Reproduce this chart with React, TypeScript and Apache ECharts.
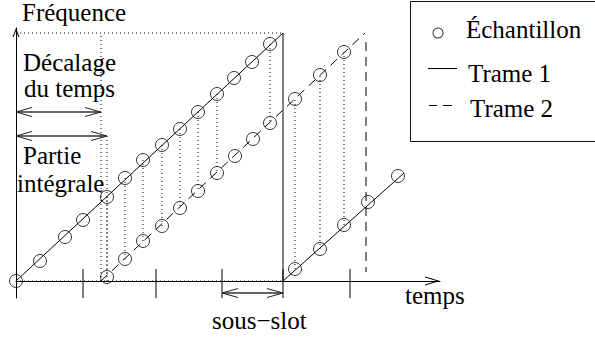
import React, { useEffect, useRef } from "react";
import * as echarts from "echarts";

const FONT = "Liberation Serif";

// ---- data (x: temps, y: fréquence, drawing units) ----
const trame1Path: number[][] = [[0, 0], [267, 248], [267, 0], [388, 108]];
const trame2Path: number[][] = [[85, 0], [349, 248]];
const trame2Drop: number[][] = [[350, 239], [350, 9]];

const trame1SampleX = [0, 24, 49, 67, 91, 109, 127, 146, 164, 182, 201, 218, 236, 254, 279, 304, 328, 352, 382];
const trame1SampleY = [0, 20, 44, 61, 84, 103, 121, 136, 152, 169, 187, 203, 219, 237, 12, 32, 56, 79, 105];
const trame2SampleX = [91, 109, 127, 146, 164, 182, 201, 219, 237, 254, 279, 304, 328];
const trame2SampleY = [4, 22, 40, 55, 73, 90, 108, 125, 142, 158, 182, 206, 229];

const slotTicks = [67, 140, 206, 267, 334];
const tickRange = [-17, 12];
const frameTop = 248;
const frameEnd = 267;
const timeOffset = 85;
const integerPart = 91;
const offsetArrowLevel = 169;
const integerArrowLevel = 145;
const subSlotStart = 206;
const subSlotLevel = -12;
const xMax = 424;
const yMin = -17;
const yMax = 253;

const labels = {
  y: "Fréquence",
  x: "temps",
  offset: ["Décalage", "du temps"],
  integer: ["Partie", "intégrale"],
  subslot: "sous−slot",
};

const samples = [
  ...trame1SampleX.map((x, i) => [x, trame1SampleY[i]]),
  ...trame2SampleX.map((x, i) => [x, trame2SampleY[i]]),
];
const pairs = trame2SampleX.map((x, i) => {
  const j = trame1SampleX.indexOf(x);
  return [x, trame1SampleY[j], x, trame2SampleY[i]];
});
const guides = [
  [0, frameTop, frameEnd, frameTop],
  [0, 0, frameEnd, 0],
  [timeOffset, 0, timeOffset, frameTop],
  [integerPart, 0, integerPart, integerArrowLevel],
];
const ticks = slotTicks.map((x) => [x, tickRange[0], x, tickRange[1]]);
const doubleArrows = [
  [0, timeOffset, offsetArrowLevel],
  [0, integerPart, integerArrowLevel],
  [subSlotStart, frameEnd, subSlotLevel],
];

const segRender = (color: string, width: number, dash: number[] | null) => (params: any, api: any) => {
  const p1 = api.coord([api.value(0), api.value(1)]);
  const p2 = api.coord([api.value(2), api.value(3)]);
  return {
    type: "line",
    shape: { x1: p1[0], y1: p1[1], x2: p2[0], y2: p2[1] },
    style: { stroke: color, lineWidth: width, lineDash: dash || undefined, fill: null },
  };
};

const arrowRender = (params: any, api: any) => {
  const a = api.coord([api.value(0), api.value(2)]);
  const b = api.coord([api.value(1), api.value(2)]);
  const L = 16;
  const H = 4.5;
  const st = { stroke: "#222", lineWidth: 1, fill: null };
  return {
    type: "group",
    children: [
      { type: "line", shape: { x1: a[0], y1: a[1], x2: b[0], y2: b[1] }, style: { stroke: "#333", lineWidth: 1.6 } },
      { type: "polyline", shape: { points: [[a[0] + L, a[1] - H], [a[0], a[1]], [a[0] + L, a[1] + H]] }, style: st },
      { type: "polyline", shape: { points: [[b[0] - L, b[1] - H], [b[0], b[1]], [b[0] - L, b[1] + H]] }, style: st },
    ],
  };
};

const txt = (text: string, x: number, y: number) => ({
  type: "text",
  x,
  y,
  style: { text, fontFamily: FONT, fontSize: 25, fill: "#000", align: "left", verticalAlign: "middle" },
});

// legend icons: shapes drawn inside an item box whose corners are pinned by two tiny specks
const box = (w: number, h: number) => `M0,0 L0.01,0 L0,0.01 Z M${w},${h} L${w - 0.01},${h} L${w},${h - 0.01} Z`;
const ringIcon =
  "path://M4.5,22 A5.5,5.5 0 1 1 15.5,22 A5.5,5.5 0 1 1 4.5,22 Z " +
  "M5.5,22 A4.5,4.5 0 1 0 14.5,22 A4.5,4.5 0 1 0 5.5,22 Z " +
  box(33, 36);
const solidIcon = "path://M0,12.5 L29,12.5 L29,13.5 L0,13.5 Z " + box(35, 36);
const dashIcon = "path://M0,14.5 L8,14.5 L8,15.5 L0,15.5 Z M14,14.5 L23,14.5 L23,15.5 L14,15.5 Z " + box(36, 36);

export default function App() {
  const ref = useRef<HTMLDivElement>(null);
  useEffect(() => {
    if (!ref.current) return;
    const chart = echarts.init(ref.current, null, { renderer: "svg" });
    const legendBase = {
      padding: 0,
      itemHeight: 36,
      selectedMode: false,
      itemStyle: { color: "#000", borderWidth: 0 },
      textStyle: { fontFamily: FONT, fontSize: 25, color: "#000" },
    };
    chart.setOption({
      animation: false,
      backgroundColor: "#fff",
      grid: { left: 16, top: 28, right: 155, bottom: 41 },
      xAxis: {
        type: "value",
        min: 0,
        max: xMax,
        axisLine: {
          onZero: true,
          lineStyle: { color: "#000", width: 1 },
          symbol: ["none", "path://M4.5,0 L9,15 L7.96,15 L4.5,3.47 L1.04,15 L0,15 Z"],
          symbolSize: [9, 15],
          symbolOffset: [0, -7.5],
        },
        axisTick: { show: false },
        axisLabel: { show: false },
        splitLine: { show: false },
      },
      yAxis: {
        type: "value",
        min: yMin,
        max: yMax,
        axisLine: {
          onZero: false,
          lineStyle: { color: "#000", width: 1 },
          symbol: ["none", "path://M3.5,0 L7,9 L5.93,9 L3.5,2.76 L1.07,9 L0,9 Z"],
          symbolSize: [7, 9],
          symbolOffset: [0, -4.5],
        },
        axisTick: { show: false },
        axisLabel: { show: false },
        splitLine: { show: false },
      },
      legend: [
        { ...legendBase, data: [{ name: "Échantillon", icon: ringIcon }], left: 428, top: 11, itemWidth: 33 },
        { ...legendBase, data: [{ name: "Trame 1", icon: solidIcon }], left: 428, top: 55.6, itemWidth: 35 },
        { ...legendBase, data: [{ name: "Trame 2", icon: dashIcon }], left: 429, top: 90.6, itemWidth: 36 },
      ],
      graphic: [
        {
          type: "rect",
          shape: { x: 410.5, y: 1.5, width: 200, height: 140 },
          style: { fill: "none", stroke: "#111", lineWidth: 1 },
        },
        txt(labels.y, 22, 12),
        txt(labels.offset[0], 23, 62),
        txt(labels.offset[1], 24, 88),
        txt(labels.integer[0], 23, 155),
        txt(labels.integer[1], 17, 183),
        txt(labels.x, 405, 295),
        txt(labels.subslot, 212, 320),
      ],
      series: [
        {
          name: "guides",
          type: "custom",
          data: guides,
          encode: { x: [0, 2], y: [1, 3] },
          renderItem: segRender("#000", 1, [1, 3]),
          clip: false,
          silent: true,
        },
        {
          name: "liens",
          type: "custom",
          data: pairs,
          encode: { x: [0, 2], y: [1, 3] },
          renderItem: segRender("#000", 1, [1, 3]),
          clip: false,
          silent: true,
        },
        {
          name: "slots",
          type: "custom",
          data: ticks,
          encode: { x: [0, 2], y: [1, 3] },
          renderItem: segRender("#000", 1, null),
          clip: false,
          silent: true,
        },
        {
          name: "flèches",
          type: "custom",
          data: doubleArrows,
          encode: { x: [0, 1], y: 2 },
          renderItem: arrowRender,
          clip: false,
          silent: true,
        },
        {
          name: "Trame 1",
          type: "line",
          data: trame1Path,
          symbol: "none",
          lineStyle: { color: "#000", width: 1 },
          itemStyle: { color: "#000" },
          clip: false,
          silent: true,
        },
        {
          name: "Trame 2",
          type: "line",
          data: trame2Path,
          symbol: "none",
          lineStyle: { color: "#000", width: 1, type: [9, 6] },
          itemStyle: { color: "#000" },
          clip: false,
          silent: true,
        },
        {
          name: "Trame 2",
          type: "line",
          data: trame2Drop,
          symbol: "none",
          lineStyle: { color: "#000", width: 1, type: [9, 6] },
          itemStyle: { color: "#000" },
          clip: false,
          silent: true,
        },
        {
          name: "Échantillon",
          type: "scatter",
          data: samples,
          symbol: "circle",
          symbolSize: 13,
          itemStyle: { color: "rgba(0,0,0,0)", borderColor: "#000", borderWidth: 1 },
          clip: false,
          silent: true,
          z: 5,
        },
      ],
    });
    return () => chart.dispose();
  }, []);
  return <div ref={ref} style={{ position: "fixed", left: 0, top: 0, width: 595, height: 339 }} />;
}
